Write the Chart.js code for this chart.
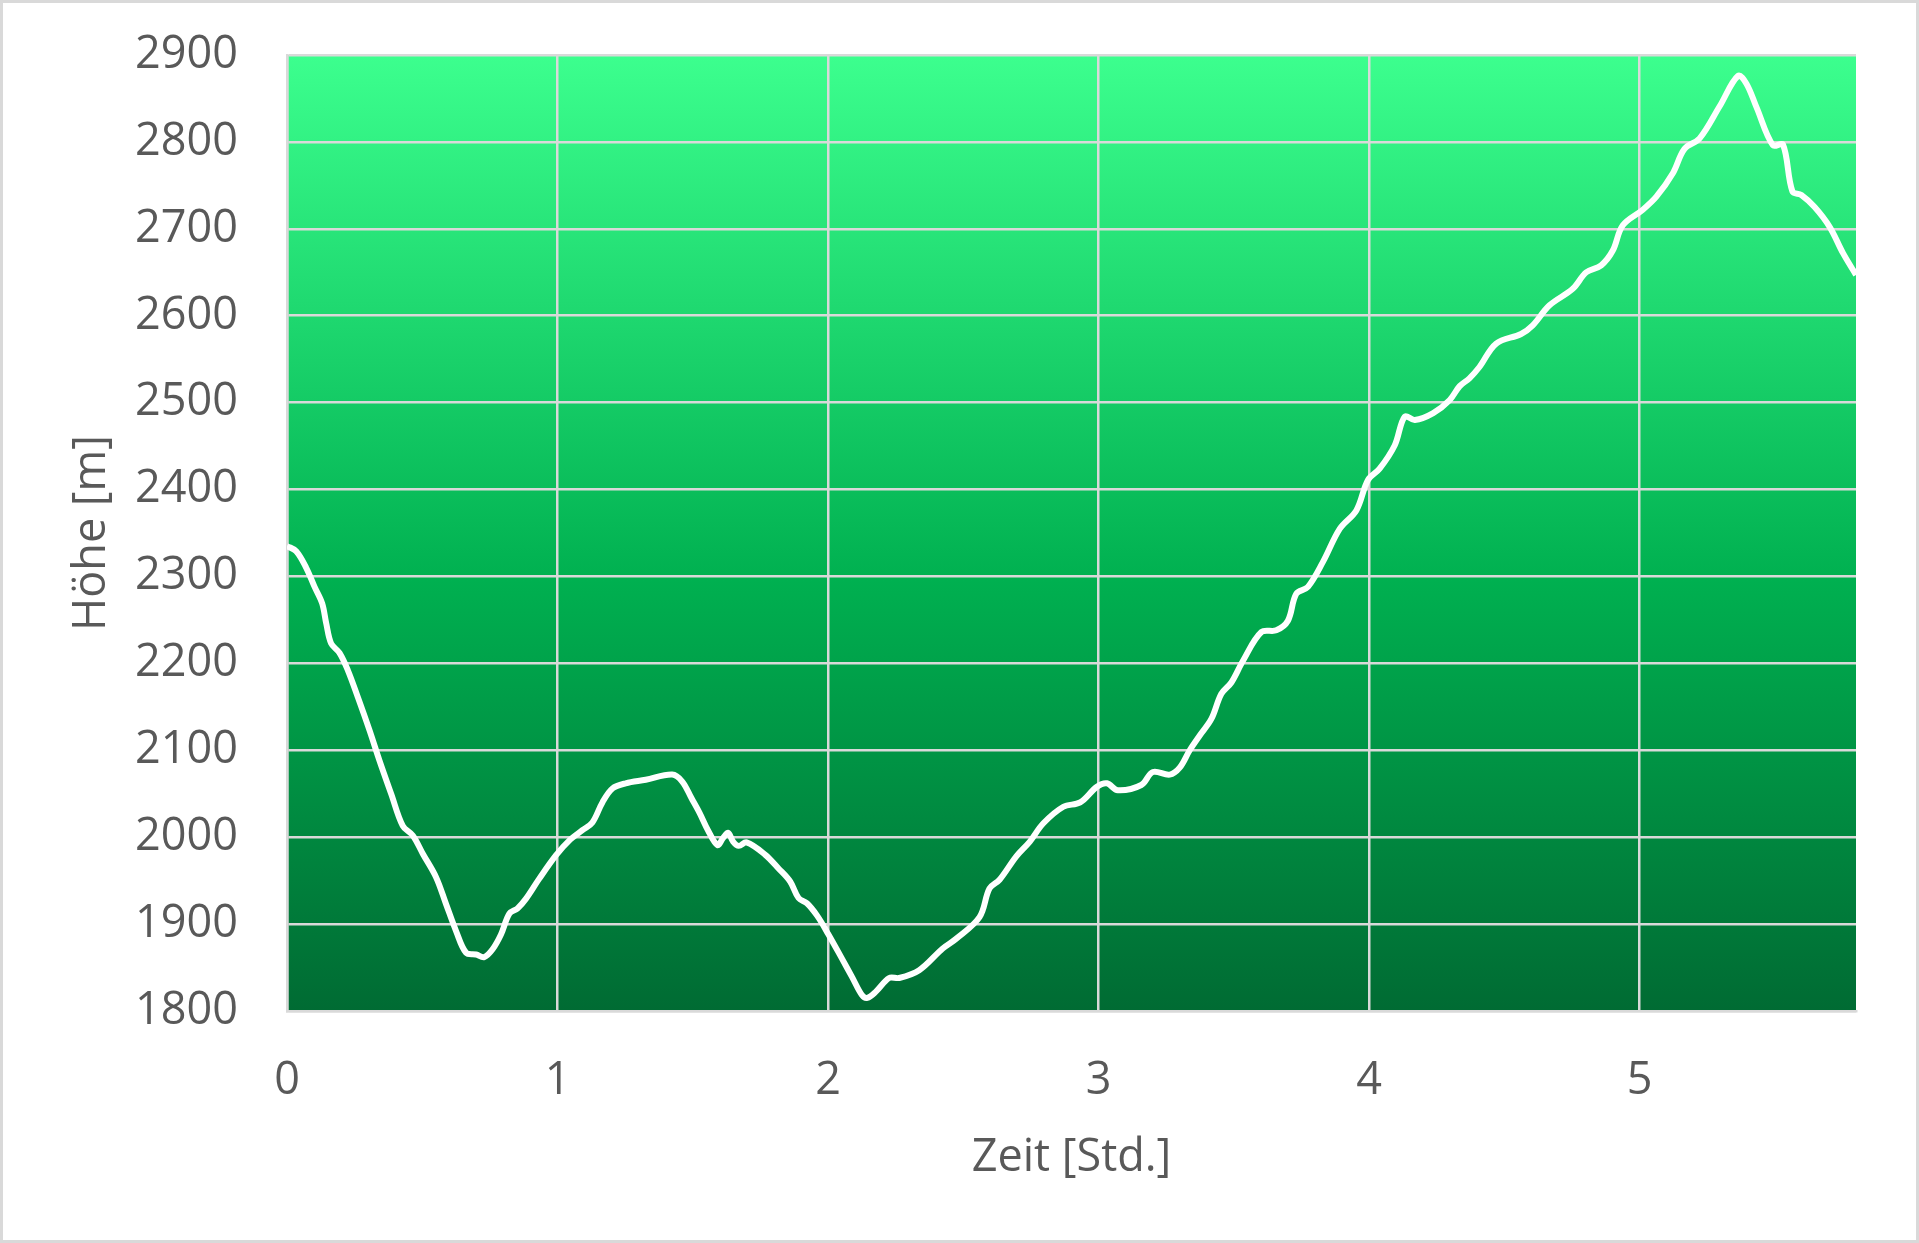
<!DOCTYPE html>
<html>
<head>
<meta charset="utf-8">
<script src="https://cdn.jsdelivr.net/npm/chart.js@4/dist/chart.umd.min.js"></script>
<style>
  body { margin: 0; background: #fff; overflow: hidden; }
  canvas { display: block; }
</style>
</head>
<body>
<canvas id="hoehenChart" width="1919" height="1243"></canvas>
<script>
// Zeit in Stunden
var zeit = [0, 0.034, 0.071, 0.102, 0.130, 0.145, 0.163, 0.194, 0.225, 0.262, 0.305, 0.342, 0.385, 0.428, 0.465,
    0.502, 0.551, 0.588, 0.625, 0.662, 0.699, 0.729, 0.760, 0.791, 0.822, 0.852, 0.883, 0.932, 0.994, 1.043,
    1.092, 1.129, 1.166, 1.203, 1.252, 1.326, 1.424, 1.461, 1.495, 1.525, 1.556, 1.591, 1.612, 1.631, 1.649,
    1.670, 1.699, 1.767, 1.817, 1.860, 1.891, 1.922, 1.959, 2.000, 2.052, 2.089, 2.126, 2.145, 2.176, 2.226,
    2.263, 2.337, 2.424, 2.473, 2.560, 2.597, 2.634, 2.696, 2.746, 2.796, 2.870, 2.932, 2.994, 3.031, 3.071,
    3.158, 3.201, 3.263, 3.300, 3.337, 3.374, 3.417, 3.454, 3.491, 3.534, 3.602, 3.657, 3.700, 3.731, 3.774,
    3.830, 3.892, 3.953, 3.996, 4.039, 4.095, 4.132, 4.169, 4.237, 4.298, 4.335, 4.371, 4.408, 4.470, 4.562,
    4.605, 4.667, 4.753, 4.803, 4.858, 4.901, 4.938, 5.012, 5.062, 5.123, 5.166, 5.222, 5.296, 5.364, 5.395,
    5.432, 5.493, 5.530, 5.565, 5.598, 5.647, 5.703, 5.752, 5.800];

// Höhe in Metern
var hoehe = [2335, 2329, 2310, 2288, 2269, 2246, 2223, 2212, 2192, 2161, 2123, 2088, 2050, 2013, 2002,
    1981, 1954, 1923, 1892, 1867, 1865, 1862, 1871, 1888, 1912, 1918, 1929, 1952, 1979, 1996,
    2008, 2017, 2040, 2056, 2062, 2066, 2072, 2064, 2045, 2028, 2008, 1991, 1999, 2005, 1995,
    1990, 1994, 1980, 1964, 1949, 1930, 1924, 1910, 1889, 1860, 1839, 1818, 1815, 1822, 1838,
    1838, 1847, 1872, 1883, 1908, 1941, 1951, 1978, 1995, 2016, 2035, 2040, 2058, 2062, 2054,
    2060, 2075, 2072, 2080, 2100, 2117, 2136, 2165, 2178, 2203, 2236, 2238, 2249, 2280, 2288,
    2317, 2355, 2376, 2411, 2424, 2451, 2484, 2480, 2488, 2503, 2519, 2528, 2541, 2568, 2579,
    2589, 2612, 2631, 2650, 2658, 2675, 2704, 2722, 2737, 2764, 2792, 2804, 2841, 2876, 2867,
    2840, 2796, 2797, 2743, 2739, 2725, 2702, 2672, 2647];

var xTicks = [0, 1, 2, 3, 4, 5];
var yMin = 1800, yMax = 2900, yStep = 100;

var punkte = zeit.map(function (t, i) { return { x: t, y: hoehe[i] }; });

var textFarbe = '#595959';
var gitterFarbe = '#d9d9d9';
var schrift = { family: '"Open Sans", sans-serif', size: 45 };

// Hintergrund: weiss, Verlauf im Diagrammbereich, grauer Rahmen
var hintergrund = {
    id: 'hintergrund',
    beforeDraw: function (chart) {
        var c = chart.ctx, a = chart.chartArea;
        c.save();
        c.fillStyle = '#ffffff';
        c.fillRect(0, 0, chart.width, chart.height);
        var g = c.createLinearGradient(0, a.top, 0, a.bottom);
        g.addColorStop(0, '#3cff8e');
        g.addColorStop(0.55, '#00b050');
        g.addColorStop(1, '#006b33');
        c.fillStyle = g;
        c.fillRect(a.left, a.top, a.right - a.left, a.bottom - a.top);
        c.restore();
    },
    afterDraw: function (chart) {
        var c = chart.ctx;
        c.save();
        c.strokeStyle = gitterFarbe;
        c.lineWidth = 3;
        c.strokeRect(1.5, 1.5, chart.width - 3, chart.height - 3);
        c.restore();
    }
};

var ctx = document.getElementById('hoehenChart').getContext('2d');
var chart = new Chart(ctx, {
    type: 'line',
    data: {
        datasets: [{
            data: punkte,
            borderColor: '#ffffff',
            borderWidth: 6,
            pointRadius: 0,
            tension: 0.35,
            fill: false
        }]
    },
    options: {
        responsive: false,
        animation: false,
        devicePixelRatio: 1,
        layout: { padding: { top: 55, right: 63, left: 0, bottom: 0 } },
        plugins: {
            legend: { display: false },
            tooltip: { enabled: false }
        },
        scales: {
            x: {
                type: 'linear',
                min: 0,
                max: 5.8,
                afterFit: function (s) {
                    s.height = 232;
                    s.paddingLeft = 0;
                    s.paddingRight = 0;
                },
                afterBuildTicks: function (s) {
                    s.ticks = xTicks.map(function (v) { return { value: v }; });
                },
                ticks: {
                    stepSize: 1, includeBounds: false, padding: 43, color: textFarbe, font: schrift, maxRotation: 0,
                    callback: function (v) { return String(v); }
                },
                grid: { color: gitterFarbe, lineWidth: 2.5, drawTicks: false },
                border: { color: gitterFarbe, width: 2.5 },
                title: {
                    display: true,
                    text: 'Zeit [Std.]',
                    color: textFarbe,
                    font: schrift,
                    padding: { top: 0, bottom: 58 }
                }
            },
            y: {
                min: yMin,
                max: yMax,
                afterFit: function (s) {
                    s.width = 287;
                    s.paddingTop = 0;
                    s.paddingBottom = 0;
                },
                ticks: {
                    stepSize: yStep, padding: 49, color: textFarbe, font: schrift,
                    callback: function (v) { return String(v); }
                },
                grid: { color: gitterFarbe, lineWidth: 2.5, drawTicks: false },
                border: { color: gitterFarbe, width: 2.5 },
                title: {
                    display: true,
                    text: 'Höhe [m]',
                    color: textFarbe,
                    font: schrift,
                    padding: { top: 65, bottom: 0 }
                }
            }
        }
    },
    plugins: [hintergrund]
});
</script>
</body>
</html>
